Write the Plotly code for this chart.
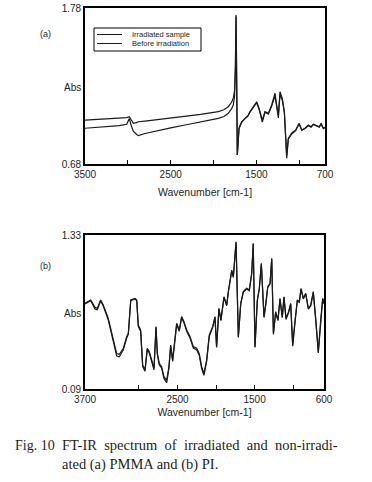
import plotly.graph_objects as go

# ---------------- Panel (a): PMMA ----------------
wn_a = [3500, 3300, 3100, 3013, 2983, 2960, 2936, 2900, 2878, 2800, 2700, 2500, 2333, 2150,
        1944, 1880, 1828, 1790, 1770, 1755, 1745, 1738, 1730, 1723, 1703, 1672, 1633, 1600,
        1575, 1536, 1497, 1470, 1431, 1400, 1361, 1322, 1283, 1264, 1244, 1225, 1198, 1174,
        1160, 1147, 1128, 1089, 1042, 1003, 971, 933, 894, 863, 836, 796, 766, 746, 719, 700]
irr_a = [0.990, 0.995, 1.003, 1.007, 1.014, 0.990, 0.967, 0.972, 0.978, 0.983, 0.990, 1.002, 1.014, 1.030,
         1.049, 1.062, 1.084, 1.115, 1.143, 1.200, 1.380, 1.730, 1.300, 0.744, 0.932, 0.978, 1.002, 1.020,
         1.049, 1.084, 1.119, 1.073, 0.990, 1.049, 1.038, 1.096, 1.179, 1.096, 1.026, 1.190, 1.143, 1.049,
         0.900, 0.740, 0.861, 0.897, 0.920, 0.967, 0.920, 0.932, 0.955, 0.943, 0.960, 0.950, 0.943, 0.967, 0.932, 0.940]
bef_a = [0.932, 0.940, 0.950, 0.960, 1.000, 0.950, 0.912, 0.890, 0.880, 0.895, 0.910, 0.935, 0.955, 0.975,
         1.002, 1.015, 1.038, 1.070, 1.096, 1.160, 1.350, 1.720, 1.290, 0.744, 0.930, 0.975, 1.000, 1.018,
         1.045, 1.080, 1.112, 1.068, 0.975, 1.045, 1.032, 1.088, 1.160, 1.085, 1.005, 1.170, 1.130, 1.040,
         0.890, 0.720, 0.855, 0.892, 0.915, 0.962, 0.918, 0.930, 0.950, 0.940, 0.958, 0.948, 0.940, 0.962, 0.930, 0.938]

# ---------------- Panel (b): PI ----------------
wn_b = [3700, 3670, 3626, 3570, 3540, 3497, 3463, 3398, 3333, 3289, 3255, 3203, 3159, 3138, 3107,
        3051, 3029, 3009, 2978, 2952, 2922, 2892, 2866, 2835, 2805, 2779, 2762, 2737, 2706, 2676,
        2641, 2611, 2589, 2563, 2533, 2511, 2477, 2447, 2416, 2381, 2338, 2295, 2251, 2218, 2187,
        2157, 2122, 2088, 2044, 2014, 1993, 1963, 1937, 1915, 1897, 1862, 1841, 1797, 1776, 1741,
        1711, 1680, 1647, 1603, 1569, 1538, 1518, 1495, 1465, 1439, 1413, 1378, 1352, 1330, 1300,
        1278, 1256, 1227, 1197, 1171, 1141, 1119, 1093, 1059, 1032, 1006, 976, 946, 920, 898,
        868, 837, 803, 772, 739, 704, 674, 643, 617, 600]
irr_b = [0.780, 0.793, 0.807, 0.748, 0.740, 0.807, 0.766, 0.659, 0.485, 0.375, 0.370, 0.418, 0.512, 0.539, 0.807,
         0.820, 0.807, 0.605, 0.565, 0.283, 0.243, 0.418, 0.390, 0.324, 0.257, 0.592, 0.378, 0.297, 0.270, 0.190,
         0.160, 0.270, 0.444, 0.324, 0.485, 0.619, 0.565, 0.673, 0.632, 0.565, 0.512, 0.431, 0.418, 0.375, 0.270,
         0.217, 0.324, 0.525, 0.592, 0.673, 0.431, 0.740, 0.646, 0.753, 0.833, 0.766, 0.874, 1.048, 0.994, 1.276,
         0.512, 0.780, 0.874, 0.901, 0.887, 1.022, 1.263, 0.431, 0.807, 0.901, 1.102, 0.673, 0.780, 0.914, 0.941,
         1.142, 0.539, 0.713, 0.646, 0.820, 0.673, 0.833, 0.659, 0.713, 0.780, 0.444, 0.646, 0.807, 0.793, 0.901,
         0.820, 0.861, 0.740, 0.766, 0.874, 0.646, 0.390, 0.646, 0.820, 0.780]
bef_b = [0.775, 0.788, 0.800, 0.735, 0.728, 0.800, 0.758, 0.645, 0.470, 0.355, 0.350, 0.405, 0.500, 0.530, 0.800,
         0.815, 0.800, 0.595, 0.552, 0.270, 0.232, 0.410, 0.380, 0.312, 0.245, 0.585, 0.368, 0.285, 0.258, 0.175,
         0.140, 0.258, 0.435, 0.312, 0.475, 0.610, 0.555, 0.665, 0.622, 0.555, 0.500, 0.420, 0.405, 0.362, 0.255,
         0.200, 0.312, 0.515, 0.585, 0.665, 0.425, 0.735, 0.640, 0.745, 0.828, 0.760, 0.868, 1.040, 0.988, 1.270,
         0.505, 0.775, 0.868, 0.895, 0.882, 1.015, 1.258, 0.425, 0.800, 0.895, 1.095, 0.665, 0.775, 0.908, 0.935,
         1.135, 0.530, 0.705, 0.640, 0.812, 0.665, 0.828, 0.650, 0.705, 0.775, 0.435, 0.640, 0.800, 0.788, 0.895,
         0.815, 0.855, 0.732, 0.760, 0.868, 0.640, 0.380, 0.640, 0.815, 0.775]

series_names = ["Irradiated sample", "Before irradiation"]

xticks_a = [3500, 3000, 2500, 2000, 1500, 1000, 700]
xtext_a = ["3500", "", "2500", "", "1500", "", "700"]
xticks_b = [3700, 3000, 2500, 2000, 1500, 1000, 600]
xtext_b = ["3700", "", "2500", "", "1500", "", "600"]
yrange_a = [0.68, 1.78]
yrange_b = [0.09, 1.33]

W, H = 372, 482
LINE = dict(color="#1a1a1a", width=1.2)
SANS = "Liberation Sans, Arial, sans-serif"
SERIF = "Liberation Serif, Times New Roman, serif"
INK = "#1e1e1e"

fig = go.Figure()
fig.add_trace(go.Scatter(x=wn_a, y=irr_a, mode="lines", name=series_names[0], line=LINE,
                         xaxis="x", yaxis="y"))
fig.add_trace(go.Scatter(x=wn_a, y=bef_a, mode="lines", name=series_names[1], line=LINE,
                         xaxis="x", yaxis="y"))
fig.add_trace(go.Scatter(x=wn_b, y=irr_b, mode="lines", name=series_names[0], line=LINE,
                         xaxis="x2", yaxis="y2"))
fig.add_trace(go.Scatter(x=wn_b, y=bef_b, mode="lines", name=series_names[1], line=LINE,
                         xaxis="x2", yaxis="y2"))


def px_x(p):
    return p / W


def px_y(p):
    return 1 - p / H


axis_common = dict(showline=True, linecolor="black", linewidth=1.6, mirror=True, automargin=False,
                   showgrid=False, zeroline=False, tickfont=dict(family=SANS, size=10, color=INK))

fig.update_layout(
    width=W, height=H, margin=dict(l=0, r=0, t=0, b=0, autoexpand=False),
    paper_bgcolor="white", plot_bgcolor="white", showlegend=False,
    font=dict(family=SANS, color=INK),
    xaxis=dict(domain=[px_x(85), px_x(325)], anchor="y", range=[3500, 700],
               tickmode="array", tickvals=xticks_a, ticktext=xtext_a,
               ticks="inside", ticklen=4, tickcolor="black",
               title=dict(text="Wavenumber [cm-1]", font=dict(family=SANS, size=10.5), standoff=10),
               **axis_common),
    yaxis=dict(domain=[px_y(164), px_y(8)], anchor="x", range=yrange_a,
               tickmode="array", tickvals=yrange_a, ticktext=["0.68", "1.78"], ticks="",
               **axis_common),
    xaxis2=dict(domain=[px_x(85), px_x(324)], anchor="y2", range=[3700, 600],
                tickmode="array", tickvals=xticks_b, ticktext=xtext_b,
                ticks="inside", ticklen=4, tickcolor="black",
                title=dict(text="Wavenumber [cm-1]", font=dict(family=SANS, size=10.5), standoff=5),
                **axis_common),
    yaxis2=dict(domain=[px_y(389), px_y(235)], anchor="x2", range=yrange_b,
                tickmode="array", tickvals=yrange_b, ticktext=["0.09", "1.33"], ticks="",
                **axis_common),
)

# legend box for panel (a), drawn in paper space
fig.add_shape(type="rect", xref="paper", yref="paper",
              x0=px_x(94), x1=px_x(201), y0=px_y(51), y1=px_y(28),
              line=dict(color="black", width=1), fillcolor="white")
for i, name in enumerate(series_names):
    yy = px_y(34.5 + 9 * i)
    fig.add_shape(type="line", xref="paper", yref="paper",
                  x0=px_x(97), x1=px_x(122), y0=yy, y1=yy, line=dict(color="#1a1a1a", width=1))
    fig.add_annotation(text=name, x=px_x(130), y=yy, xref="paper", yref="paper",
                       showarrow=False, xanchor="left", yanchor="middle",
                       font=dict(family=SANS, size=7.5, color=INK))

annos = [
    ("(a)", 45, 34, 9),
    ("Abs", 72, 87, 10),
    ("(b)", 45, 266, 9),
    ("Abs", 72, 313, 10),
]
for txt, x, y, s in annos:
    fig.add_annotation(text=txt, x=px_x(x), y=px_y(y), xref="paper", yref="paper",
                       showarrow=False, xanchor="center", yanchor="middle",
                       font=dict(family=SANS, size=s, color=INK))

GAP = "\u2002"
caption = [
    ("Fig. 10", 13, 445, 14),
    (GAP.join("FT-IR spectrum of irradiated and non-irradi-".split(" ")), 60, 445, 14.5),
    ("ated (a) PMMA and (b) PI.", 60, 464, 14.5),
]
for txt, x, y, s in caption:
    fig.add_annotation(text=txt, x=px_x(x), y=px_y(y), xref="paper", yref="paper", showarrow=False,
                       xanchor="left", yanchor="middle",
                       font=dict(family=SERIF, size=s, color=INK))

# remove the browser's default 8px body margin so the figure fills the window exactly
fig.write_html("out.html", config={"displayModeBar": False},
               post_script="document.body.style.margin='0';document.body.style.overflow='hidden';")
